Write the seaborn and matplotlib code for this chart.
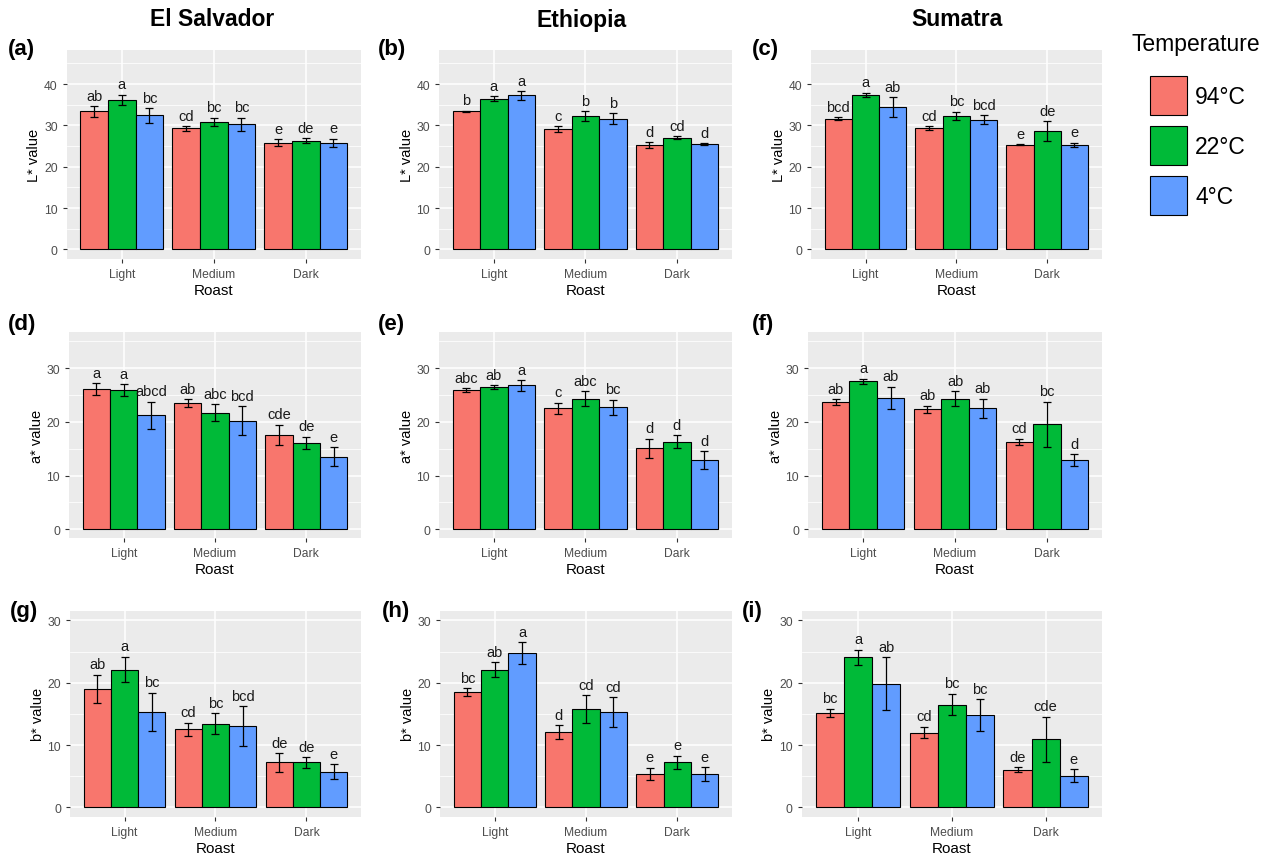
import numpy as np
import pandas as pd
import matplotlib
matplotlib.use("Agg")
import matplotlib.pyplot as plt
import seaborn as sns
from matplotlib.patches import Patch
from matplotlib.ticker import MultipleLocator

plt.rcParams["font.family"] = ["Liberation Sans", "DejaVu Sans"]

roasts = ["Light", "Medium", "Dark"]
temps = ["94°C", "22°C", "4°C"]
origins = ["El Salvador", "Ethiopia", "Sumatra"]
palette = ["#F8766D", "#00BA38", "#619CFF"]

# Rows: roast (Light, Medium, Dark); columns: brew temperature (94, 22, 4 °C)
L_salvador_mean = [[33.4, 36.2, 32.4], [29.3, 30.9, 30.3], [25.8, 26.3, 25.8]]
L_salvador_sd = [[1.25, 1.2, 1.8], [0.55, 1.0, 1.55], [0.8, 0.6, 1.0]]
L_salvador_grp = [["ab", "a", "bc"], ["cd", "bc", "bc"], ["e", "de", "e"]]

L_ethiopia_mean = [[33.4, 36.45, 37.25], [29.05, 32.2, 31.6], [25.3, 27.0, 25.5]]
L_ethiopia_sd = [[0.2, 0.65, 1.0], [0.7, 1.25, 1.3], [0.65, 0.35, 0.15]]
L_ethiopia_grp = [["b", "a", "a"], ["c", "b", "b"], ["d", "cd", "d"]]

L_sumatra_mean = [[31.6, 37.4, 34.4], [29.3, 32.35, 31.4], [25.3, 28.6, 25.3]]
L_sumatra_sd = [[0.35, 0.5, 2.4], [0.5, 1.0, 1.1], [0.15, 2.35, 0.55]]
L_sumatra_grp = [["bcd", "a", "ab"], ["cd", "bc", "bcd"], ["e", "de", "e"]]

a_salvador_mean = [[26.1, 25.9, 21.2], [23.5, 21.7, 20.25], [17.6, 16.1, 13.5]]
a_salvador_sd = [[1.15, 1.1, 2.55], [0.75, 1.55, 2.7], [1.9, 1.15, 1.8]]
a_salvador_grp = [["a", "a", "abcd"], ["ab", "abc", "bcd"], ["cde", "de", "e"]]

a_ethiopia_mean = [[25.9, 26.5, 26.8], [22.55, 24.35, 22.7], [15.1, 16.3, 12.9]]
a_ethiopia_sd = [[0.35, 0.35, 1.0], [1.0, 1.35, 1.45], [1.8, 1.2, 1.6]]
a_ethiopia_grp = [["abc", "ab", "a"], ["c", "abc", "bc"], ["d", "d", "d"]]

a_sumatra_mean = [[23.65, 27.6, 24.5], [22.35, 24.35, 22.55], [16.3, 19.6, 12.9]]
a_sumatra_sd = [[0.55, 0.45, 2.05], [0.65, 1.35, 1.75], [0.55, 4.2, 1.1]]
a_sumatra_grp = [["ab", "a", "ab"], ["ab", "ab", "ab"], ["cd", "bc", "d"]]

b_salvador_mean = [[19.0, 22.1, 15.3], [12.5, 13.4, 13.0], [7.2, 7.2, 5.7]]
b_salvador_sd = [[2.3, 2.05, 3.1], [1.05, 1.7, 3.2], [1.45, 0.85, 1.2]]
b_salvador_grp = [["ab", "a", "bc"], ["cd", "bc", "bcd"], ["de", "de", "e"]]

b_ethiopia_mean = [[18.5, 22.1, 24.75], [12.1, 15.8, 15.3], [5.35, 7.2, 5.35]]
b_ethiopia_sd = [[0.65, 1.15, 1.75], [1.1, 2.2, 2.35], [1.0, 1.1, 1.05]]
b_ethiopia_grp = [["bc", "ab", "a"], ["d", "cd", "cd"], ["e", "e", "e"]]

b_sumatra_mean = [[15.2, 24.1, 19.85], [12.0, 16.5, 14.8], [6.05, 10.9, 5.1]]
b_sumatra_sd = [[0.65, 1.2, 4.2], [0.95, 1.75, 2.55], [0.35, 3.65, 1.0]]
b_sumatra_grp = [["bc", "a", "ab"], ["cd", "bc", "bc"], ["de", "cde", "e"]]

W, H = 1271, 854
fig = plt.figure(figsize=(W / 100, H / 100), dpi=100)
fig.patch.set_facecolor("white")

rows = [
    dict(ylabel="L* value", ylim=(-2.3, 48.3), ticks=[0, 10, 20, 30, 40], top=50.7, bottom=260,
         lefts=[66.7, 439, 811], rights=[361, 731.7, 1101.7],
         data=[(L_salvador_mean, L_salvador_sd, L_salvador_grp),
               (L_ethiopia_mean, L_ethiopia_sd, L_ethiopia_grp),
               (L_sumatra_mean, L_sumatra_sd, L_sumatra_grp)],
         tags=["(a)", "(b)", "(c)"], tag_y=50),
    dict(ylabel="a* value", ylim=(-1.64, 36.7), ticks=[0, 10, 20, 30], top=333.3, bottom=539,
         lefts=[69, 439, 808], rights=[361, 731.7, 1102],
         data=[(a_salvador_mean, a_salvador_sd, a_salvador_grp),
               (a_ethiopia_mean, a_ethiopia_sd, a_ethiopia_grp),
               (a_sumatra_mean, a_sumatra_sd, a_sumatra_grp)],
         tags=["(d)", "(e)", "(f)"], tag_y=325),
    dict(ylabel="b* value", ylim=(-1.5, 31.55), ticks=[0, 10, 20, 30], top=611.7, bottom=817.7,
         lefts=[70, 440, 801.7], rights=[361, 732, 1102],
         data=[(b_salvador_mean, b_salvador_sd, b_salvador_grp),
               (b_ethiopia_mean, b_ethiopia_sd, b_ethiopia_grp),
               (b_sumatra_mean, b_sumatra_sd, b_sumatra_grp)],
         tags=["(g)", "(h)", "(i)"], tag_y=611),
]
tag_x = [[8, 378, 752], [8, 378, 752], [10, 382, 742]]

for r, row in enumerate(rows):
    for c in range(3):
        left, right = row["lefts"][c], row["rights"][c]
        ax = fig.add_axes([left / W, 1 - row["bottom"] / H, (right - left) / W,
                           (row["bottom"] - row["top"]) / H])
        mean, sd, grp = row["data"][c]
        df = pd.DataFrame({
            "Roast": np.repeat(roasts, 3),
            "Temperature": np.tile(temps, 3),
            "value": np.asarray(mean).ravel(),
        })
        ax.set_facecolor("#EBEBEB")
        ax.set_axisbelow(True)
        sns.barplot(data=df, x="Roast", y="value", hue="Temperature", order=roasts,
                    hue_order=temps, palette=palette, width=0.9, saturation=1,
                    edgecolor="black", linewidth=0.8, errorbar=None, legend=False, ax=ax,
                    zorder=2)
        bar_groups = list(ax.containers)
        for h, cont in enumerate(bar_groups):
            for j, bar in enumerate(cont.patches):
                x = bar.get_x() + bar.get_width() / 2
                m, s = mean[j][h], sd[j][h]
                ax.errorbar(x, m, yerr=s, color="black", capsize=3, elinewidth=0.9,
                            capthick=0.9, zorder=3)
                ax.annotate(grp[j][h], (x, m + s), xytext=(0, 2.5), textcoords="offset points",
                            ha="center", va="bottom", fontsize=10.5, color="#1A1A1A", zorder=4)
        ax.set_xlim(-0.6, 2.6)
        ax.set_ylim(*row["ylim"])
        ax.set_yticks(row["ticks"])
        ax.yaxis.set_minor_locator(MultipleLocator(5))
        ax.grid(which="major", color="white", lw=1.1, zorder=0)
        ax.grid(which="minor", axis="y", color="white", lw=0.55, zorder=0)
        for sp in ax.spines.values():
            sp.set_visible(False)
        ax.tick_params(which="major", length=3, width=0.8, color="#333333",
                       labelcolor="#4D4D4D", labelsize=8.7, pad=3.5)
        ax.tick_params(which="minor", length=0)
        ax.set_xlabel("Roast", fontsize=11, labelpad=2)
        ax.set_ylabel(row["ylabel"], fontsize=10.5, labelpad=2)
        fig.text(tag_x[r][c] / W, 1 - row["tag_y"] / H, row["tags"][c], fontsize=16,
                 fontweight="bold", ha="left", va="center")

for name, xc in zip(origins, [212, 582, 957]):
    fig.text(xc / W, 1 - 20 / H, name, fontsize=16.5, fontweight="bold", ha="center",
             va="center")

# Legend: title set as its own text, keys indented under it
fig.text(1132 / W, 1 - 45 / H, "Temperature", fontsize=16.5, ha="left", va="center")
handles = [Patch(facecolor=col, edgecolor="black", linewidth=0.8) for col in palette]
fig.legend(handles, temps, loc="upper left", bbox_to_anchor=(1150 / W, 1 - 77 / H),
           frameon=False, fontsize=16.5, handlelength=1.62, handleheight=2.24,
           labelspacing=0.48, handletextpad=0.35, borderaxespad=0, borderpad=0)

fig.savefig("out.png", dpi=100, facecolor="white")
